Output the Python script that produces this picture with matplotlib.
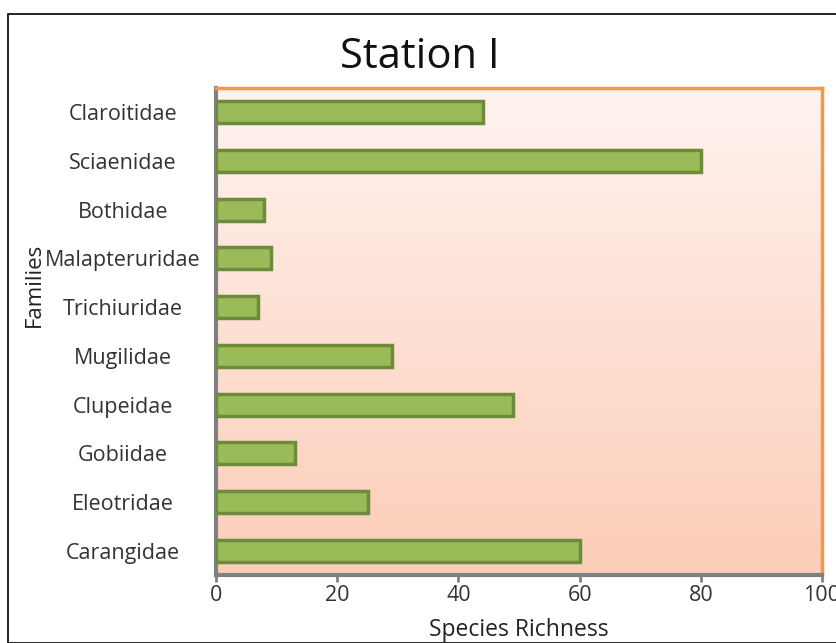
import matplotlib.pyplot as plt
from matplotlib.colors import LinearSegmentedColormap
from matplotlib.patches import Rectangle
import numpy as np

families = ["Claroitidae", "Sciaenidae", "Bothidae", "Malapteruridae", "Trichiuridae",
            "Mugilidae", "Clupeidae", "Gobiidae", "Eleotridae", "Carangidae"]
richness = [44, 80, 8, 9, 7, 29, 49, 13, 25, 60]
x_ticks = [0, 20, 40, 60, 80, 100]

plt.rcParams['font.family'] = ['Open Sans', 'DejaVu Sans']

fig = plt.figure(figsize=(8.36, 6.43), dpi=100)
ax = fig.add_axes([216 / 836, 1 - 575 / 643, (822 - 216) / 836, (575 - 88) / 643])

# background gradient, white-ish on top to peach at bottom
cmap = LinearSegmentedColormap.from_list("peach", ["#FCCDB8", "#FFF3EF"])
grad = np.linspace(0, 1, 256).reshape(-1, 1)
ax.imshow(grad, aspect="auto", cmap=cmap, origin="lower",
          extent=[0, 1, 0, 1], transform=ax.transAxes, zorder=0)

y = np.arange(len(families))[::-1]
ax.barh(y, richness, height=0.45, color="#9BBB59", edgecolor="#6E8B3D",
        linewidth=2.5, zorder=3)

ax.set_xlim(0, 100)
ax.set_ylim(-0.5, len(families) - 0.5)
ax.set_xticks(x_ticks)
ax.set_yticks(y)
ax.set_yticklabels(families)
# labels in the reference are centred in the space left of the axis
ax.tick_params(axis="y", length=0, labelsize=15.5, labelcolor="#333333", pad=67)
for lbl in ax.get_yticklabels():
    lbl.set_ha("center")
ax.tick_params(axis="x", length=5, width=2, color="#808080", labelsize=15.5,
               labelcolor="#333333", direction="out", pad=2)

for side in ["left", "bottom"]:
    ax.spines[side].set_color("#808080")
    ax.spines[side].set_linewidth(3)
for side in ["top", "right"]:
    ax.spines[side].set_color("#F79646")
    ax.spines[side].set_linewidth(2.5)

ax.set_xlabel("Species Richness", fontsize=16.5, color="#222222")
ax.xaxis.label.set_va("center")
ax.xaxis.set_label_coords(0.50, -0.113)
ax.set_ylabel("Families", fontsize=16, color="#222222")
ax.yaxis.label.set_va("center")
ax.yaxis.set_label_coords(-0.30, 0.595)

fig.text(420 / 836, 1 - 57 / 643, "Station I", fontsize=30, ha="center", va="center",
         color="#111111")

fig.patches.append(Rectangle((8 / 836, 0), 1, 1 - 14 / 643, transform=fig.transFigure,
                             fill=False, edgecolor="black", linewidth=1.2))

fig.savefig("out.png", dpi=100)
